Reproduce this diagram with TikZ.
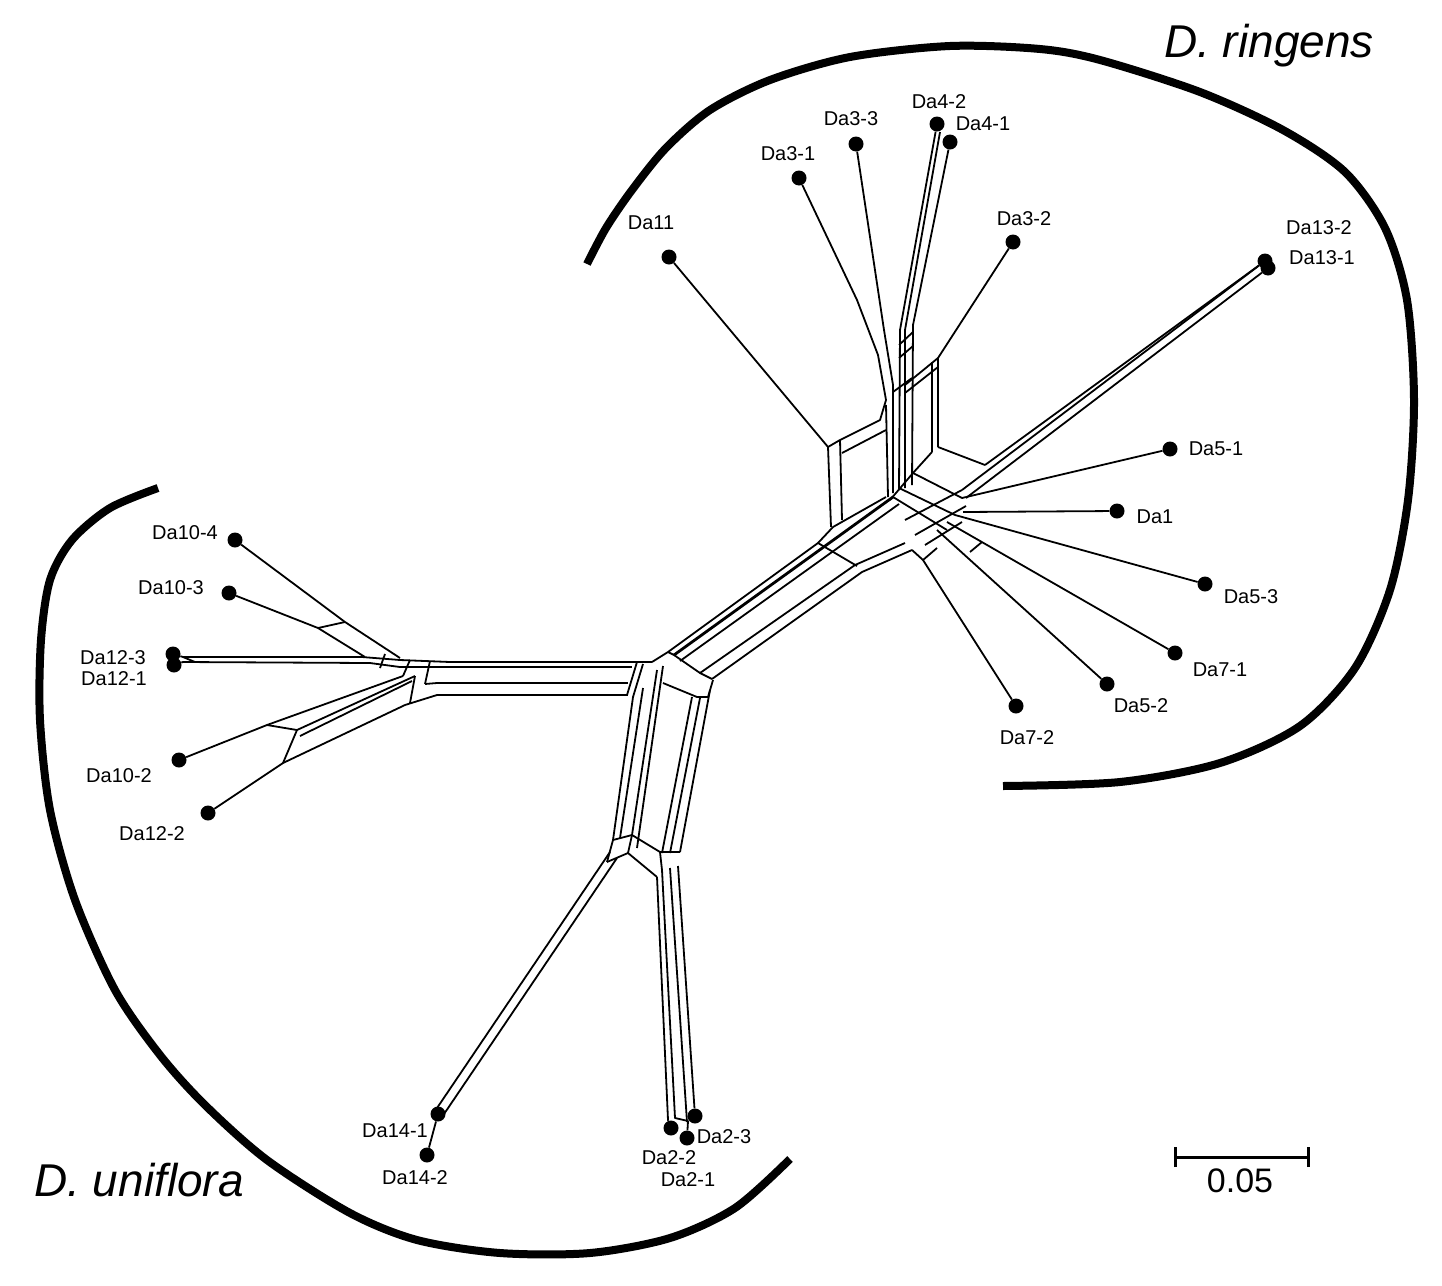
\documentclass[tikz,border=0pt]{standalone}
\usepackage{fontspec}
\setmainfont{Liberation Sans}
\begin{document}
\begin{tikzpicture}[x=1pt,y=-1pt,
  net/.style={line width=1.8pt,line join=round},
  leaf/.style={circle,fill=black,inner sep=0pt,minimum size=15pt},
  lab/.style={font=\fontsize{20}{22}\selectfont,inner sep=0pt},
  grp/.style={line width=8pt,line cap=butt},
  species/.style={font=\fontsize{46}{50}\selectfont\itshape,inner sep=0pt}]
\useasboundingbox (0,0) rectangle (1442,1285);
% ---------------- leaves ----------------
\node[leaf] (Da4-2) at (937,124) {};
\node[leaf] (Da4-1) at (950,142) {};
\node[leaf] (Da3-3) at (856,144) {};
\node[leaf] (Da3-1) at (799,178) {};
\node[leaf] (Da3-2) at (1013,242) {};
\node[leaf] (Da11) at (669,257) {};
\node[leaf] (Da13-2) at (1265,261) {};
\node[leaf] (Da13-1) at (1268,268) {};
\node[leaf] (Da5-1) at (1170,449) {};
\node[leaf] (Da1) at (1117,511) {};
\node[leaf] (Da5-3) at (1205,584) {};
\node[leaf] (Da7-1) at (1175,653) {};
\node[leaf] (Da5-2) at (1107,684) {};
\node[leaf] (Da7-2) at (1016,706) {};
\node[leaf] (Da10-4) at (235,540) {};
\node[leaf] (Da10-3) at (229,593) {};
\node[leaf] (Da12-3) at (173,654) {};
\node[leaf] (Da12-1) at (174,665) {};
\node[leaf] (Da10-2) at (179,760) {};
\node[leaf] (Da12-2) at (208,813) {};
\node[leaf] (Da14-1) at (438,1114) {};
\node[leaf] (Da14-2) at (427,1155) {};
\node[leaf] (Da2-2) at (671,1128) {};
\node[leaf] (Da2-3) at (695,1116) {};
\node[leaf] (Da2-1) at (687,1138) {};
% ---------------- labels ----------------
\node[lab] (l4-2) at (939,102) {Da4-2};
\node[lab] (l4-1) at (983,124) {Da4-1};
\node[lab] (l3-3) at (851,119) {Da3-3};
\node[lab] (l3-1) at (788,154) {Da3-1};
\node[lab] (l3-2) at (1024,219) {Da3-2};
\node[lab] (l11) at (651,223) {Da11};
\node[lab] (l13-2) at (1319,228) {Da13-2};
\node[lab] (l13-1) at (1322,258) {Da13-1};
\node[lab] (l5-1) at (1216,449) {Da5-1};
\node[lab] (l1) at (1155,517) {Da1};
\node[lab] (l5-3) at (1251,597) {Da5-3};
\node[lab] (l7-1) at (1220,670) {Da7-1};
\node[lab] (l5-2) at (1141,706) {Da5-2};
\node[lab] (l7-2) at (1027,738) {Da7-2};
\node[lab] (l10-4) at (185,533) {Da10-4};
\node[lab] (l10-3) at (171,588) {Da10-3};
\node[lab] (l12-3) at (113,658) {Da12-3};
\node[lab] (l12-1) at (114,679) {Da12-1};
\node[lab] (l10-2) at (119,776) {Da10-2};
\node[lab] (l12-2) at (152,834) {Da12-2};
\node[lab] (l14-1) at (395,1131) {Da14-1};
\node[lab] (l14-2) at (415,1178) {Da14-2};
\node[lab] (l2-2) at (669,1158) {Da2-2};
\node[lab] (l2-3) at (724,1137) {Da2-3};
\node[lab] (l2-1) at (688,1180) {Da2-1};
% ---------------- species groups ----------------
\node[species,anchor=west] (ring) at (1164,46) {D. ringens};
\node[species,anchor=west] (unif) at (34,1180) {D. uniflora};
\draw[grp] plot[smooth] coordinates {(587,264) (606,228) (632,190) (666,148) (710,110) (770,80) (850,57) (950,46) (1040,49) (1100,60) (1200,92) (1283,130) (1345,172) (1385,228) (1407,300) (1414,400) (1408,500) (1390,590) (1355,668) (1300,726) (1220,763) (1120,782) (1003,786)};
\draw[grp] plot[smooth] coordinates {(158,488) (110,508) (72,540) (50,580) (41,640) (40,720) (50,810) (75,900) (115,990) (160,1055) (205,1105) (267,1160) (350,1213) (417,1240) (500,1253) (590,1253) (670,1238) (735,1208) (790,1159)};
% ---------------- scale bar ----------------
\coordinate (sbl) at (1175,1157);
\coordinate (sbr) at (1308,1157);
\draw[line width=3pt] (sbl) -- (sbr);
\draw[line width=3pt] ([yshift=-10]sbl) -- ([yshift=10]sbl);
\draw[line width=3pt] ([yshift=-10]sbr) -- ([yshift=10]sbr);
\node[font=\fontsize{34}{38}\selectfont,inner sep=0pt] (sbt) at (1240,1181) {0.05};
% ---------------- network: central band ----------------
\draw[net] (652,662) -- (668,652) -- (818,543) -- (833,527) -- (886,497);
\draw[net,line width=2.8pt] (674,655) -- (893,497);
\draw[net] (680,661) -- (899,504);
\draw[net] (700,673) -- (855,565) -- (905,543);
\draw[net] (712,679) -- (862,572) -- (912,550);
\draw[net] (818,543) -- (857,566);
\draw[net] (668,652) -- (674,655) -- (700,673) -- (712,679);
% ---------------- upper hub & stems ----------------
\draw[net] (Da3-1) -- (857,300) -- (878,355) -- (886,400) -- (880,420) -- (840,440) -- (828,447);
\draw[net] (886,405) -- (888,497);
\draw[net] (Da3-3) -- (884,330) -- (893,385) -- (893,493);
\draw[net] (Da4-2) -- (900,330) -- (899,490);
\draw[net] (940,132) -- (905,330) -- (905,488);
\draw[net] (Da4-1) -- (913,325) -- (912,485);
\draw[net] (899,345) -- (913,332);
\draw[net] (899,358) -- (913,346);
\draw[net] (893,392) -- (912,378);
\draw[net] (Da11) -- (828,447);
\draw[net] (828,447) -- (831,527);
\draw[net] (840,440) -- (842,520);
\draw[net] (842,453) -- (886,430);
\draw[net] (Da3-2) -- (938,358) -- (938,447);
\draw[net] (932,362) -- (932,452);
\draw[net] (938,358) -- (905,385);
\draw[net] (938,367) -- (905,393);
\draw[net] (938,447) -- (985,465);
\draw[net] (932,452) -- (913,473) -- (890,500);
\draw[net] (913,473) -- (962,498);
\draw[net] (899,488) -- (955,515);
\draw[net] (893,497) -- (947,530);
\draw[net] (905,520) -- (962,490);
\draw[net] (915,535) -- (966,506);
\draw[net] (925,545) -- (962,522);
% Da13 band
\draw[net] (985,465) -- (Da13-2);
\draw[net] (962,490) -- (Da13-2);
\draw[net] (966,498) -- (Da13-1);
% fan
\draw[net] (962,498) -- (Da5-1);
\draw[net] (963,512) -- (Da1);
\draw[net] (955,515) -- (Da5-3);
\draw[net] (947,522) -- (Da7-1);
\draw[net] (937,530) -- (Da5-2);
\draw[net] (970,552) -- (982,542);
\draw[net] (912,550) -- (923,560) -- (Da7-2);
\draw[net] (923,560) -- (937,548);
% ---------------- lower-left hub ----------------
\draw[net] (450,662) -- (637,662) -- (652,662);
\draw[net] (447,667) -- (632,667);
\draw[net] (437,683) -- (628,683);
\draw[net] (437,695) -- (628,695);
\draw[net] (637,662) -- (627,695);
\draw[net] (643,664) -- (633,697);
% down band
\draw[net] (633,697) -- (613,840);
\draw[net] (643,688) -- (620,838);
\draw[net] (657,670) -- (632,835);
\draw[net] (663,666) -- (637,848);
\draw[net] (663,683) -- (697,697) -- (708,697) -- (713,680);
\draw[net] (692,697) -- (662,853);
\draw[net] (700,698) -- (670,853);
\draw[net] (710,690) -- (680,852);
\draw[net] (613,840) -- (632,835) -- (660,852) -- (680,852);
\draw[net] (607,862) -- (628,853) -- (657,877);
\draw[net] (613,840) -- (607,862);
\draw[net] (632,835) -- (628,853);
\draw[net] (660,852) -- (662,870);
% Da14 band
\draw[net] (610,852) -- (435,1111);
\draw[net] (617,858) -- (442,1117);
\draw[net] (Da14-1) -- (Da14-2);
% Da2 band
\draw[net] (657,877) -- (668,1120) -- (Da2-2);
\draw[net] (662,870) -- (675,1118) -- (688,1121) -- (Da2-1);
\draw[net] (670,868) -- (687,1122);
\draw[net] (678,866) -- (Da2-3);
% ---------------- left region ----------------
\draw[net] (Da12-3) -- (183,657) -- (362,657) -- (400,660) -- (450,662);
\draw[net] (Da12-1) -- (183,662) -- (370,663) -- (400,667) -- (447,667);
\draw[net] (183,657) -- (195,662);
\draw[net] (385,654) -- (380,668);
\draw[net] (410,660) -- (403,676);
\draw[net] (430,661) -- (425,684);
\draw[net] (Da10-4) -- (345,622) -- (400,658);
\draw[net] (Da10-3) -- (318,628) -- (365,657);
\draw[net] (318,628) -- (345,622);
\draw[net] (403,676) -- (267,725) -- (Da10-2);
\draw[net] (415,676) -- (297,730);
\draw[net] (412,681) -- (300,736);
\draw[net] (267,725) -- (297,730) -- (283,763);
\draw[net] (437,695) -- (405,705) -- (283,763) -- (Da12-2);
\draw[net] (425,684) -- (437,683);
\draw[net] (415,676) -- (410,703);
\end{tikzpicture}
\end{document}
